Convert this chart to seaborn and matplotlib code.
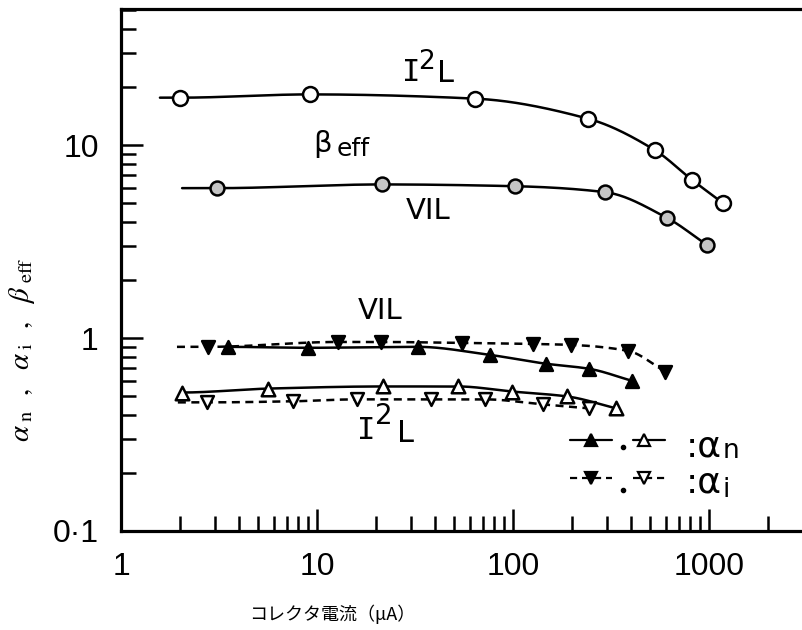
import numpy as np
import pandas as pd
import matplotlib
matplotlib.use("Agg")
import matplotlib.pyplot as plt
import seaborn as sns
from matplotlib.ticker import LogLocator, NullFormatter

# ---- measured values ----------------------------------------------------
# beta_eff, I2L (open circles)
beff_i2l_x = [2.0, 9.2, 64, 241, 530, 819, 1178]
beff_i2l_y = [17.6, 18.3, 17.4, 13.7, 9.4, 6.6, 5.0]
beff_i2l_from = 1.58

# beta_eff, VIL (shaded circles)
beff_vil_x = [3.09, 21.5, 102, 295, 611, 977]
beff_vil_y = [5.98, 6.25, 6.12, 5.70, 4.19, 3.03]
beff_vil_from = 2.05

# alpha_n, VIL (solid, filled up-triangles)
an_vil_x = [3.52, 9.0, 32.7, 76, 147, 244, 405]
an_vil_y = [0.90, 0.89, 0.90, 0.818, 0.736, 0.693, 0.60]
an_vil_from = 3.52

# alpha_i, VIL (dashed, filled down-triangles)
ai_vil_x = [2.78, 12.8, 21.2, 55, 126, 198, 386, 597]
ai_vil_y = [0.90, 0.954, 0.954, 0.943, 0.932, 0.921, 0.858, 0.67]
ai_vil_from = 1.93

# alpha_n, I2L (solid, open up-triangles)
an_i2l_x = [2.05, 5.62, 21.7, 52.4, 99, 189, 336]
an_i2l_y = [0.522, 0.547, 0.561, 0.561, 0.528, 0.498, 0.432]
an_i2l_from = 2.05

# alpha_i, I2L (dashed, open down-triangles)
ai_i2l_x = [2.75, 7.5, 16, 38, 72, 142, 244]
ai_i2l_y = [0.464, 0.470, 0.481, 0.481, 0.481, 0.453, 0.432]
ai_i2l_from = 1.95

x_ticks = [1, 10, 100, 1000]
x_ticklabels = ["1", "10", "100", "1000"]
y_ticks = [0.1, 1, 10]
y_ticklabels = ["0·1", "1", "10"]


def smooth_curve(x, y, start, n=300):
    """Monotone cubic (PCHIP) through the points in log-log space,
    held flat to the left of the first point down to `start`."""
    lx, ly = np.log10(np.asarray(x, float)), np.log10(np.asarray(y, float))
    h = np.diff(lx)
    d = np.diff(ly) / h
    m = np.empty_like(ly)
    m[0] = 0.0
    m[-1] = d[-1]
    for k in range(1, len(lx) - 1):
        if d[k - 1] * d[k] <= 0:
            m[k] = 0.0
        else:
            w1 = 2 * h[k] + h[k - 1]
            w2 = h[k] + 2 * h[k - 1]
            m[k] = (w1 + w2) / (w1 / d[k - 1] + w2 / d[k])
    xs = np.linspace(np.log10(start), lx[-1], n)
    xc = np.clip(xs, lx[0], lx[-1])
    i = np.clip(np.searchsorted(lx, xc) - 1, 0, len(h) - 1)
    t = (xc - lx[i]) / h[i]
    h00 = 2 * t**3 - 3 * t**2 + 1
    h10 = t**3 - 2 * t**2 + t
    h01 = -2 * t**3 + 3 * t**2
    h11 = t**3 - t**2
    yc = h00 * ly[i] + h10 * h[i] * m[i] + h01 * ly[i + 1] + h11 * h[i] * m[i + 1]
    return pd.DataFrame({"x": 10**xs, "y": 10**yc})


sns.set_theme(style="white")
plt.rcParams["font.family"] = ["DejaVu Sans"]
plt.rcParams["mathtext.fontset"] = "stix"

fig = plt.figure(figsize=(8.02, 6.30), dpi=100)
ax = fig.add_axes([121 / 802, 99 / 630, 681 / 802, 522 / 630])
ax.set_xscale("log")
ax.set_yscale("log")

LW = 1.8
DASH = (0, (3.2, 2.2))

series = [
    (beff_i2l_x, beff_i2l_y, beff_i2l_from, "-", "o", "white", 115),
    (beff_vil_x, beff_vil_y, beff_vil_from, "-", "o", "#c4c4c4", 100),
    (an_vil_x, an_vil_y, an_vil_from, "-", "^", "black", 85),
    (ai_vil_x, ai_vil_y, ai_vil_from, DASH, "v", "black", 85),
    (an_i2l_x, an_i2l_y, an_i2l_from, "-", "^", "white", 95),
    (ai_i2l_x, ai_i2l_y, ai_i2l_from, DASH, "v", "white", 85),
]

for xs, ys, start, ls, mk, face, size in series:
    curve = smooth_curve(xs, ys, start)
    sns.lineplot(data=curve, x="x", y="y", ax=ax, color="black",
                 linewidth=LW, linestyle=ls, sort=False, estimator=None,
                 zorder=2)
    sns.scatterplot(x=xs, y=ys, ax=ax, marker=mk, s=size, color=face,
                    edgecolor="black", linewidth=1.8, zorder=3)

# axes frame
ax.set_xlim(1, 2980)
ax.set_ylim(0.1, 50.7)
for side in ("left", "bottom", "top"):
    ax.spines[side].set_visible(True)
    ax.spines[side].set_color("black")
    ax.spines[side].set_linewidth(2.3)
ax.spines["right"].set_visible(False)

ax.set_xticks(x_ticks)
ax.set_xticklabels(x_ticklabels)
ax.set_yticks(y_ticks)
ax.set_yticklabels(y_ticklabels)
ax.xaxis.set_minor_locator(LogLocator(base=10, subs=np.arange(2, 10)))
ax.yaxis.set_minor_locator(LogLocator(base=10, subs=np.arange(2, 10)))
ax.xaxis.set_minor_formatter(NullFormatter())
ax.yaxis.set_minor_formatter(NullFormatter())
ax.tick_params(which="both", direction="in", color="black", width=1.8,
               bottom=True, left=True, top=False, right=False)
ax.tick_params(which="major", length=16)
ax.tick_params(which="minor", length=11)
ax.tick_params(axis="x", which="major", pad=15)
ax.tick_params(axis="y", which="major", pad=16)
for lab in ax.get_xticklabels() + ax.get_yticklabels():
    lab.set_fontfamily("Liberation Sans")
    lab.set_fontsize(23)
    lab.set_color("black")
ax.set_xlabel("")
ax.set_ylabel("")


def put(x, y, s, size, ha="center", va="center", family="DejaVu Sans"):
    ax.text(x, y, s, transform=ax.transAxes, fontsize=size, ha=ha, va=va,
            family=family, color="black")


# curve labels
put(0.4258, 0.8784, "I", 22, family="DejaVu Sans Mono")
put(0.4480, 0.8985, "2", 19)
put(0.4770, 0.8755, "L", 22)
put(0.2820, 0.7261, "β", 21, ha="left", va="baseline")
put(0.3172, 0.7180, "eff", 18, ha="left", va="baseline")
put(0.4508, 0.6130, "VIL", 21)
put(0.3803, 0.4215, "VIL", 21)
put(0.3598, 0.1916, "I", 22, family="DejaVu Sans Mono")
put(0.3860, 0.2203, "2", 20)
put(0.4180, 0.1877, "L", 22)

# key for the triangle symbols
key_rows = [
    (0.1743, "-", "^", 0.1418, "n", 0.1398, 0.161),
    (0.1015, DASH, "v", 0.0747, "i", 0.0651, 0.0785),
]
for ky, ls, mk, base, sub, subbase, doty in key_rows:
    for (a, b), mx, face in (((0.659, 0.721), 0.690, "black"),
                              ((0.752, 0.799), 0.768, "white")):
        ax.plot([a, b], [ky, ky], transform=ax.transAxes, color="black",
                lw=1.6, linestyle=ls, clip_on=False)
        ax.plot([mx], [ky], transform=ax.transAxes, marker=mk, ms=8,
                mfc=face, mec="black", mew=1.6, clip_on=False)
    ax.plot([0.737], [doty], transform=ax.transAxes, marker="o", ms=3,
            color="black", clip_on=False)
    put(0.8297, base, ":α", 26, ha="left", va="baseline")
    put(0.8830, subbase, sub, 19, ha="left", va="baseline")

fig.text(22 / 802, 1 - 350 / 630,
         r"$\alpha_{\ \rm n}\ \ ,\ \ \alpha_{\ \rm i}\ \ ,\ \ \beta_{\ \rm eff}$",
         rotation=90, ha="center", va="center", fontsize=21, color="black")
fig.text(332 / 802, 1 - 614 / 630, "コレクタ電流（μA）", ha="center",
         va="center", fontsize=13, color="black",
         family=["Noto Sans CJK JP", "DejaVu Sans"])

fig.savefig("out.png", dpi=100, facecolor="white")
